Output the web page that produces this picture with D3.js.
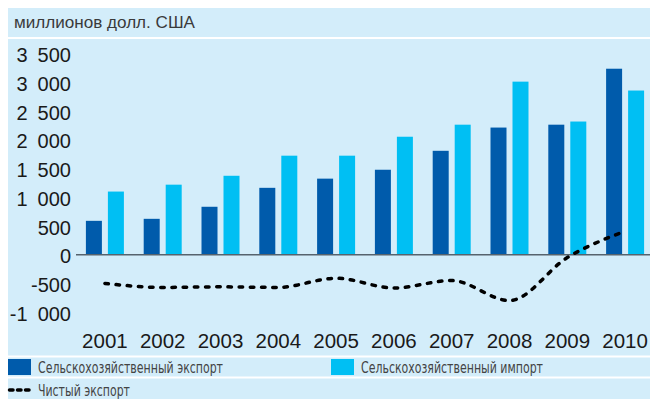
<!DOCTYPE html>
<html>
<head>
<meta charset="utf-8">
<script src="https://cdn.jsdelivr.net/npm/d3@7"></script>
<style>
  body { margin: 0; background: #fff; }
  svg { display: block; }
</style>
</head>
<body>
<div id="chart"></div>
<script>
const years = ['2001', '2002', '2003', '2004', '2005', '2006', '2007', '2008', '2009', '2010']
const exportValues = [590, 625, 835, 1165, 1325, 1480, 1810, 2215, 2265, 3240]
const importValues = [1100, 1220, 1375, 1725, 1725, 2055, 2265, 3015, 2320, 2860]
const netValues = [-500, -570, -560, -570, -410, -580, -450, -800, -50, 410]
const yTicks = [-1000, -500, 0, 500, 1000, 1500, 2000, 2500, 3000, 3500]
const seriesNames = ['Сельскохозяйственный экспорт', 'Сельскохозяйственный импорт', 'Чистый экспорт']
const unitLabel = 'миллионов долл. США'

const width = 650
const height = 399
const bg = '#d3edfa'
const exportColor = '#005bab'
const importColor = '#00bff3'

const svg = d3
  .select('#chart')
  .append('svg')
  .attr('width', width)
  .attr('height', height)

// background panels
svg.append('rect')
  .attr('x', 8).attr('y', 8)
  .attr('width', width - 8).attr('height', height - 8)
  .attr('fill', bg)

const whiteLines = [38, 356.5, 377.5]
svg.selectAll('.sep')
  .data(whiteLines)
  .enter()
  .append('line')
  .attr('x1', 8).attr('x2', width)
  .attr('y1', d => d).attr('y2', d => d)
  .attr('stroke', '#fff')
  .attr('stroke-width', 2)

svg.append('text')
  .attr('x', 14)
  .attr('y', 28)
  .attr('font-family', 'Liberation Sans, Arial, sans-serif')
  .attr('font-size', 16)
  .attr('textLength', 181)
  .attr('lengthAdjust', 'spacingAndGlyphs')
  .attr('fill', '#3a3a3a')
  .text(unitLabel)

const xPositionScale = d3.scaleBand()
  .domain(years)
  .range([76, 654])

const xSub = d3.scaleBand()
  .domain(['export', 'import'])
  .range([xPositionScale.bandwidth() / 2 - 19, xPositionScale.bandwidth() / 2 + 19])
  .paddingInner(0.2727)

const yPositionScale = d3.scaleLinear()
  .domain([0, 3500])
  .range([254.7, 254.7 - 3500 * 0.0574])

// y axis labels
const yAxis = d3.axisLeft(yPositionScale)
  .tickValues(yTicks)
  .tickSize(0)
  .tickPadding(0)
  .tickFormat(d => d3.format(',')(d).replace(/,/g, '\u2002').replace('−', '-'))

const yG = svg.append('g')
  .attr('class', 'axis y-axis')
  .attr('transform', 'translate(71,0)')
  .call(yAxis)
yG.select('.domain').remove()
yG.selectAll('text')
  .attr('font-family', 'Liberation Sans, Arial, sans-serif')
  .attr('font-size', 20)
  .attr('fill', '#1a1a1a')
  .attr('dy', '0.4em')

// x axis labels
const xAxis = d3.axisBottom(xPositionScale).tickSize(0).tickPadding(0)
const xG = svg.append('g')
  .attr('class', 'axis x-axis')
  .attr('transform', 'translate(0,348)')
  .call(xAxis)
xG.select('.domain').remove()
xG.selectAll('text')
  .attr('font-family', 'Liberation Sans, Arial, sans-serif')
  .attr('font-size', 20.5)
  .attr('fill', '#1a1a1a')
  .attr('dy', 0)

const rows = years.map((y, i) => ({ year: y, exp: exportValues[i], imp: importValues[i], net: netValues[i] }))

svg.selectAll('.bar-export')
  .data(rows)
  .enter()
  .append('rect')
  .attr('class', 'bar-export')
  .attr('x', d => xPositionScale(d.year) + xSub('export'))
  .attr('width', xSub.bandwidth())
  .attr('y', d => yPositionScale(d.exp))
  .attr('height', d => yPositionScale(0) - yPositionScale(d.exp))
  .attr('fill', exportColor)

svg.selectAll('.bar-import')
  .data(rows)
  .enter()
  .append('rect')
  .attr('class', 'bar-import')
  .attr('x', d => xPositionScale(d.year) + xSub('import'))
  .attr('width', xSub.bandwidth())
  .attr('y', d => yPositionScale(d.imp))
  .attr('height', d => yPositionScale(0) - yPositionScale(d.imp))
  .attr('fill', importColor)

// zero line
svg.append('line')
  .attr('x1', 76).attr('x2', width)
  .attr('y1', yPositionScale(0)).attr('y2', yPositionScale(0))
  .attr('stroke', '#56636d')
  .attr('stroke-width', 1.6)

// net export line
const line = d3.line()
  .x(d => xPositionScale(d.year) + xPositionScale.bandwidth() / 2)
  .y(d => yPositionScale(d.net))
  .curve(d3.curveMonotoneX)

svg.append('path')
  .datum(rows)
  .attr('d', line)
  .attr('fill', 'none')
  .attr('stroke', '#000')
  .attr('stroke-width', 3.5)
  .attr('stroke-linecap', 'round')
  .attr('stroke-dasharray', '3.5,7.7')

// legend
const legendFont = 'DejaVu Sans Condensed, Liberation Sans Narrow, sans-serif'
const legendItems = [
  { name: seriesNames[0], x: 8, color: exportColor, len: 185 },
  { name: seriesNames[1], x: 331, color: importColor, len: 182 }
]
const legend = svg.selectAll('.legend')
  .data(legendItems)
  .enter()
  .append('g')
  .attr('class', 'legend')
legend.append('rect')
  .attr('x', d => d.x).attr('y', 359)
  .attr('width', 23).attr('height', 16)
  .attr('fill', d => d.color)
legend.append('text')
  .attr('x', d => d.x + 30)
  .attr('y', 373)
  .attr('font-family', legendFont)
  .attr('font-size', 15)
  .attr('textLength', d => d.len)
  .attr('lengthAdjust', 'spacingAndGlyphs')
  .attr('fill', '#444')
  .text(d => d.name)

svg.append('line')
  .attr('x1', 9.5).attr('x2', 30)
  .attr('y1', 390).attr('y2', 390)
  .attr('stroke', '#000')
  .attr('stroke-width', 3.5)
  .attr('stroke-linecap', 'round')
  .attr('stroke-dasharray', '3.5,4.5')
svg.append('text')
  .attr('x', 38)
  .attr('y', 396)
  .attr('font-family', legendFont)
  .attr('font-size', 15)
  .attr('textLength', 92)
  .attr('lengthAdjust', 'spacingAndGlyphs')
  .attr('fill', '#444')
  .text(seriesNames[2])
</script>
</body>
</html>
